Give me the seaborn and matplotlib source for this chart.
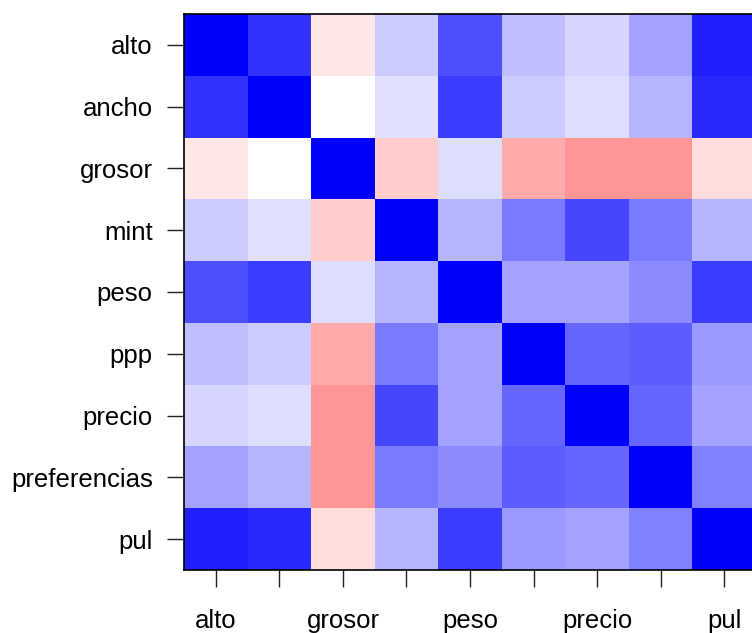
import numpy as np
import pandas as pd
import seaborn as sns
import matplotlib
matplotlib.use("Agg")
import matplotlib.pyplot as plt
from matplotlib.colors import LinearSegmentedColormap

variables = ["alto", "ancho", "grosor", "mint", "peso", "ppp", "precio", "preferencias", "pul"]
x_tick_labels = ["alto", "", "grosor", "", "peso", "", "precio", "", "pul"]

alto         = [1.00, 0.80, -0.09, 0.20, 0.69, 0.25, 0.16, 0.36, 0.87]
ancho        = [0.80, 1.00, 0.00, 0.12, 0.76, 0.20, 0.13, 0.29, 0.84]
grosor       = [-0.09, 0.00, 1.00, -0.20, 0.13, -0.33, -0.41, -0.41, -0.13]
mint         = [0.20, 0.12, -0.20, 1.00, 0.29, 0.52, 0.72, 0.52, 0.29]
peso         = [0.69, 0.76, 0.13, 0.29, 1.00, 0.36, 0.36, 0.45, 0.76]
ppp          = [0.25, 0.20, -0.33, 0.52, 0.36, 1.00, 0.60, 0.64, 0.40]
precio       = [0.16, 0.13, -0.41, 0.72, 0.36, 0.60, 1.00, 0.60, 0.36]
preferencias = [0.36, 0.29, -0.41, 0.52, 0.45, 0.64, 0.60, 1.00, 0.49]
pul          = [0.87, 0.84, -0.13, 0.29, 0.76, 0.40, 0.36, 0.49, 1.00]

corr = pd.DataFrame([alto, ancho, grosor, mint, peso, ppp, precio, preferencias, pul],
                    index=variables, columns=variables)

sns.set_style("white")
plt.rcParams['font.family'] = ['Liberation Sans', 'DejaVu Sans']

cmap = LinearSegmentedColormap.from_list("rwb", ["#ff0000", "#ffffff", "#0000ff"], N=257)

W, H = 752, 633
fig = plt.figure(figsize=(W / 100, H / 100), dpi=100)
left, right, top, bottom = 184, 756, 14, 570
ax = fig.add_axes([left / W, 1 - bottom / H, (right - left) / W, (bottom - top) / H])

sns.heatmap(corr, ax=ax, cmap=cmap, vmin=-1, vmax=1, cbar=False,
            xticklabels=x_tick_labels, yticklabels=variables)

for s in ax.spines.values():
    s.set_visible(True)
    s.set_color("black")
    s.set_linewidth(1.2)

ax.tick_params(axis="both", direction="out", length=12, width=1.0, color="#222222",
               labelsize=18.5, labelcolor="black", bottom=True, left=True)
ax.tick_params(axis="x", pad=16, labelrotation=0)
ax.tick_params(axis="y", pad=10.5, labelrotation=0)
for lab in ax.get_yticklabels():
    lab.set_va("center_baseline")
ax.set_xlabel("")
ax.set_ylabel("")

fig.savefig("out.png", dpi=100, facecolor="white")
